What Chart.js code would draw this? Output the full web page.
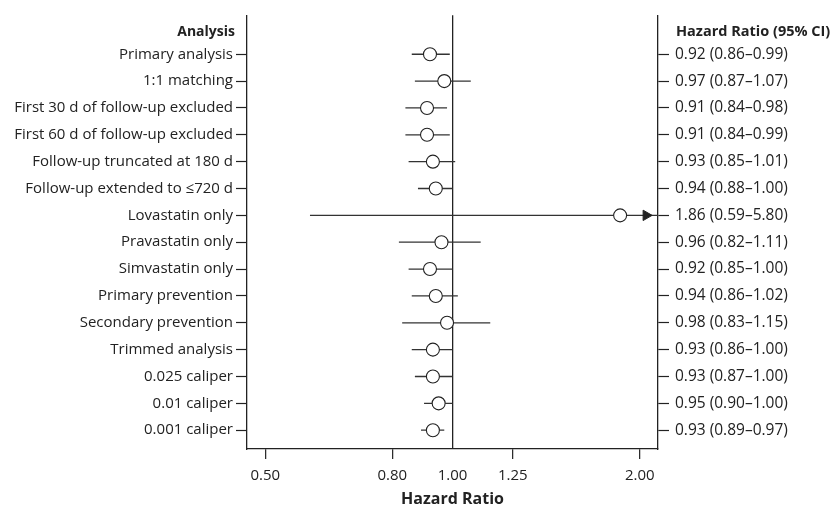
<!DOCTYPE html>
<html>
<head>
<meta charset="utf-8">
<script src="https://cdn.jsdelivr.net/npm/chart.js@4/dist/chart.umd.min.js"></script>
<style>
  body { margin: 0; background: #fff; }
  #wrap { width: 835px; height: 509px; }
</style>
</head>
<body>
<div id="wrap"><canvas id="forest"></canvas></div>
<script>
const analyses = [
  'Primary analysis', '1:1 matching', 'First 30 d of follow-up excluded',
  'First 60 d of follow-up excluded', 'Follow-up truncated at 180 d',
  'Follow-up extended to ≤720 d', 'Lovastatin only', 'Pravastatin only',
  'Simvastatin only', 'Primary prevention', 'Secondary prevention',
  'Trimmed analysis', '0.025 caliper', '0.01 caliper', '0.001 caliper'
];
const hazardRatio = [0.92, 0.97, 0.91, 0.91, 0.93, 0.94, 1.86, 0.96, 0.92, 0.94, 0.98, 0.93, 0.93, 0.95, 0.93];
const ciLower     = [0.86, 0.87, 0.84, 0.84, 0.85, 0.88, 0.59, 0.82, 0.85, 0.86, 0.83, 0.86, 0.87, 0.90, 0.89];
const ciUpper     = [0.99, 1.07, 0.98, 0.99, 1.01, 1.00, 5.80, 1.11, 1.00, 1.02, 1.15, 1.00, 1.00, 1.00, 0.97];
const xTickValues = [0.50, 0.80, 1.00, 1.25, 2.00];

const X_MIN = 1 / 2.14, X_MAX = 2.14;
const FONT = "'Open Sans', 'DejaVu Sans', sans-serif";
const INK = '#222';

const rows = analyses.map((_, i) => i + 1);
const rightLabels = hazardRatio.map((v, i) =>
  `${v.toFixed(2)} (${ciLower[i].toFixed(2)}–${ciUpper[i].toFixed(2)})`);

// one short line per row for the confidence interval
const ciSets = rows.map((row, i) => ({
  type: 'line',
  data: [{ x: ciLower[i], y: row }, { x: Math.min(ciUpper[i], X_MAX), y: row }],
  borderColor: '#333',
  borderWidth: 1.3,
  pointRadius: 0,
  order: 3
}));

// arrows for intervals running off the right edge
const arrowData = rows
  .filter((row, i) => ciUpper[i] > X_MAX)
  .map(row => ({ x: X_MAX / 1.045, y: row }));

const headers = {
  id: 'headers',
  afterDraw(chart) {
    const ctx = chart.ctx;
    const area = chart.chartArea;
    const y = chart.scales.y.getPixelForValue(1) - 22;
    ctx.save();
    ctx.fillStyle = INK;
    ctx.textBaseline = 'middle';
    ctx.textAlign = 'right';
    ctx.font = `bold 14px ${FONT}`;
    ctx.fillText('Analysis', area.left - 12, y);
    ctx.textAlign = 'left';
    ctx.font = `bold 14.5px ${FONT}`;
    ctx.fillText('Hazard Ratio (95% CI)', area.right + 18, y);
    ctx.restore();
  }
};

function rowAxis(position, labels, pad, width, size) {
  return {
    type: 'linear',
    position: position,
    min: -0.45,
    max: 15.7,
    reverse: true,
    afterBuildTicks: scale => { scale.ticks = rows.map(v => ({ value: v })); },
    afterFit: scale => { scale.width = width; },
    ticks: {
      color: INK,
      padding: pad,
      font: { family: FONT, size: size },
      callback: v => labels[v - 1] || ''
    },
    grid: { drawOnChartArea: false, tickLength: 11, tickColor: INK, tickWidth: 1.2 },
    border: { color: INK, width: 1.3 }
  };
}

new Chart(document.getElementById('forest'), {
  data: {
    datasets: [
      {
        type: 'scatter',
        data: rows.map((row, i) => ({ x: hazardRatio[i], y: row })),
        pointRadius: 6.5,
        pointHoverRadius: 6.5,
        pointBackgroundColor: '#fff',
        pointBorderColor: INK,
        pointBorderWidth: 1.1,
        order: 1
      },
      {
        type: 'scatter',
        data: arrowData,
        pointStyle: 'triangle',
        rotation: 90,
        pointRadius: 6,
        pointBackgroundColor: INK,
        pointBorderColor: INK,
        order: 2
      },
      ...ciSets
    ]
  },
  options: {
    responsive: true,
    maintainAspectRatio: false,
    animation: false,
    layout: { padding: { top: 12, left: 0, right: 0, bottom: 0 } },
    scales: {
      x: {
        type: 'logarithmic',
        min: X_MIN,
        max: X_MAX,
        afterBuildTicks: scale => { scale.ticks = xTickValues.map(v => ({ value: v })); },
        afterFit: scale => { scale.height = 60; },
        ticks: {
          color: INK,
          padding: 8,
          maxRotation: 0,
          autoSkip: false,
          font: { family: FONT, size: 15 },
          callback: v => Number(v).toFixed(2)
        },
        grid: {
          tickLength: 10,
          tickWidth: 1.2,
          lineWidth: 1.3,
          color: c => (c.tick && c.tick.value === 1 ? INK : 'rgba(0,0,0,0)'),
          tickColor: c => (c.tick && c.tick.value === 1 ? 'rgba(0,0,0,0)' : INK)
        },
        border: { color: INK, width: 1.3 },
        title: {
          display: true,
          text: 'Hazard Ratio',
          color: INK,
          padding: { top: 4, bottom: 0 },
          font: { family: FONT, size: 16, weight: 'bold' }
        }
      },
      y: rowAxis('left', analyses, 3, 247, 15),
      y2: rowAxis('right', rightLabels, 6, 177, 15.5)
    },
    plugins: {
      legend: { display: false },
      tooltip: { enabled: false }
    }
  },
  plugins: [headers]
});
</script>
</body>
</html>
